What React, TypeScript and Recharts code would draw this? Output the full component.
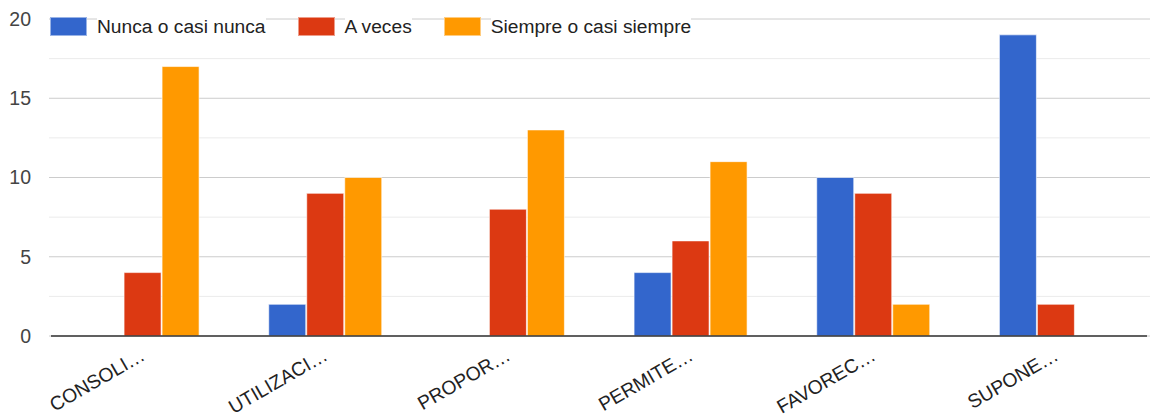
import React from 'react';
import { BarChart, Bar, XAxis, YAxis, CartesianGrid } from 'recharts';

const categories = ['CONSOLI…', 'UTILIZACI…', 'PROPOR…', 'PERMITE…', 'FAVOREC…', 'SUPONE…'];
const nunca = [0, 2, 0, 4, 10, 19];
const aVeces = [4, 9, 8, 6, 9, 2];
const siempre = [17, 10, 13, 11, 2, 0];
const seriesNames = ['Nunca o casi nunca', 'A veces', 'Siempre o casi siempre'];
const seriesColors = ['#3366cc', '#dc3912', '#ff9900'];
const yTicks = [0, 2.5, 5, 7.5, 10, 12.5, 15, 17.5, 20];

const data = categories.map((c, i) => ({
  name: c,
  nunca: nunca[i],
  aVeces: aVeces[i],
  siempre: siempre[i],
}));

const FONT = '"Liberation Sans", Arial, sans-serif';

const GridLine = (props: any) => {
  const { x1, x2, y1, y2, index } = props;
  const major = index % 2 === 0;
  return (
    <line
      x1={x1 - 2}
      x2={x2 + 3}
      y1={y1}
      y2={y2}
      stroke={major ? '#cccccc' : '#ebebeb'}
      strokeWidth={1}
    />
  );
};

const XTick = (props: any) => {
  const { x, y, payload } = props;
  const ax = x + 4;
  const ay = y + 23;
  return (
    <text
      x={ax}
      y={ay}
      transform={`rotate(-30, ${ax}, ${ay})`}
      textAnchor="end"
      fill="#222"
      fontSize={19.3}
      fontFamily={FONT}
    >
      {payload.value}
    </text>
  );
};

export default function App() {
  return (
    <div style={{ position: 'absolute', left: 0, top: 0, width: 1159, height: 418, background: '#fff' }}>
      <BarChart
        width={1159}
        height={418}
        data={data}
        margin={{ top: 19, right: 12, bottom: 0, left: 0 }}
        barCategoryGap="19.2%"
        barGap={1}
      >
        <CartesianGrid vertical={false} horizontal={GridLine} />
        <XAxis
          dataKey="name"
          interval={0}
          height={82}
          tickSize={0}
          tickMargin={0}
          tickLine={false}
          axisLine={{ stroke: '#333', strokeWidth: 1.3 }}
          tick={XTick}
        />
        <YAxis
          width={51}
          domain={[0, 20]}
          ticks={yTicks}
          interval={0}
          tickSize={0}
          tickMargin={20}
          tickLine={false}
          axisLine={false}
          tickFormatter={(v: number) => (v % 5 === 0 ? String(v) : '')}
          tick={{ fill: '#444', fontSize: 19.5, fontFamily: FONT }}
        />
        <Bar dataKey="nunca" name={seriesNames[0]} fill={seriesColors[0]} stroke="#ffffff" strokeOpacity={0.6} strokeWidth={1} isAnimationActive={false} />
        <Bar dataKey="aVeces" name={seriesNames[1]} fill={seriesColors[1]} stroke="#ffffff" strokeOpacity={0.6} strokeWidth={1} isAnimationActive={false} />
        <Bar dataKey="siempre" name={seriesNames[2]} fill={seriesColors[2]} stroke="#ffffff" strokeOpacity={0.6} strokeWidth={1} isAnimationActive={false} />
      </BarChart>
      <div
        style={{
          position: 'absolute',
          left: 50,
          top: 17,
          display: 'flex',
          alignItems: 'center',
          fontFamily: FONT,
          fontSize: 19.2,
          color: '#222',
          lineHeight: '19px',
        }}
      >
        {seriesNames.map((n, i) => (
          <div key={n} style={{ display: 'flex', alignItems: 'center', marginRight: 32 }}>
            <div
              style={{
                width: 35,
                height: 17,
                background: seriesColors[i],
                border: '1px solid rgba(255,255,255,0.5)',
                marginRight: 10,
              }}
            />
            <span style={{ background: '#fff' }}>{n}</span>
          </div>
        ))}
      </div>
    </div>
  );
}
